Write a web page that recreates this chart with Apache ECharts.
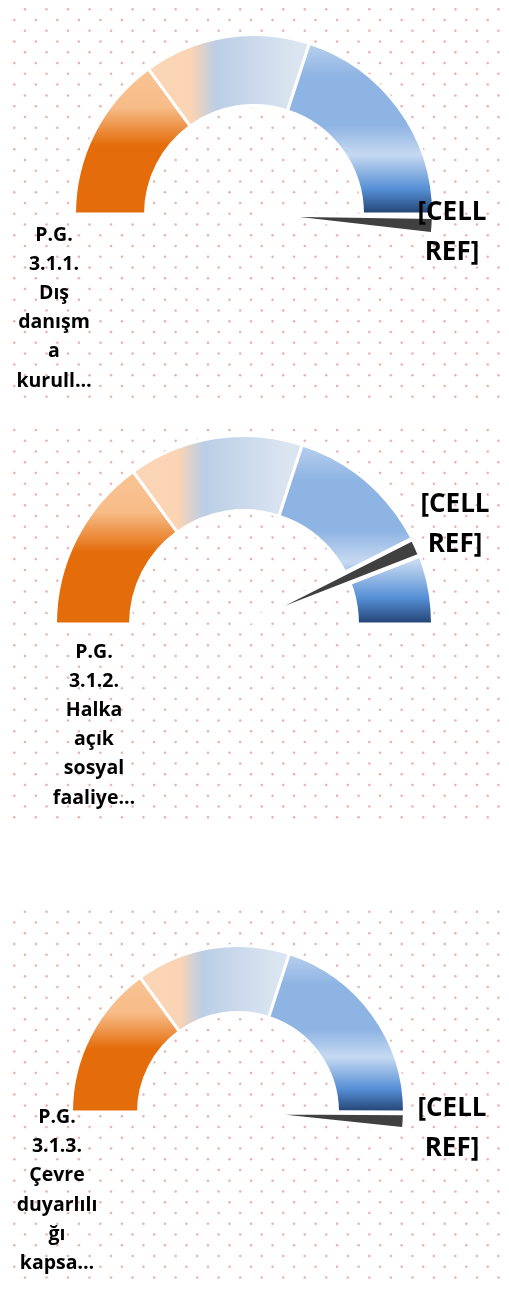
<!DOCTYPE html>
<html>
<head>
<meta charset="utf-8">
<script src="https://cdn.jsdelivr.net/npm/echarts@6/dist/echarts.min.js"></script>
<style>
  html, body { margin: 0; padding: 0; background: #ffffff; }
  #chart { width: 509px; height: 1289px; }
</style>
</head>
<body>
<div id="chart"></div>
<script>
// ---- data ----
const gaugeNames = [
  'P.G. 3.1.1. Dış danışma kurulları',
  'P.G. 3.1.2. Halka açık sosyal faaliyetler',
  'P.G. 3.1.3. Çevre duyarlılığı kapsamı'
];
const gaugeLabelLines = [
  ['P.G.', '3.1.1.', 'Dış', 'danışm', 'a', 'kurull…'],
  ['P.G.', '3.1.2.', 'Halka', 'açık', 'sosyal', 'faaliye…'],
  ['P.G.', '3.1.3.', 'Çevre', 'duyarlılı', 'ğı', 'kapsa…']
];
const bandValues = [30, 30, 40];          // three bands of the 0–100 scale
const gaugeMax = 100;                      // half circle
const needleValues = [100.5, 85.1, 100.2]; // where the pointer slice starts
const needleWidth = 3.1;                   // pointer slice width
const valueLabel = '[CELL\nREF]';

// ---- layout ----
const layout = [
  { cx: 254, cy: 214, R: 178, r: 110, area: [8, 3, 496, 399], lab: [54, 235], val: [452, 211] },
  { cx: 244, cy: 624, R: 187, r: 115, area: [8, 423, 496, 397], lab: [94, 652], val: [455, 503] },
  { cx: 238, cy: 1112, R: 165, r: 101, area: [8, 905, 496, 377], lab: [57, 1117.5], val: [452, 1107] }
];
const dotFirst = [ {y: 9.3, phaseA: true}, {y: 430.0, phaseA: false}, {y: 911.7, phaseA: true} ];

function lin(stops, horizontal) {
  return {
    type: 'linear', x: 0, y: 0, x2: horizontal ? 1 : 0, y2: horizontal ? 0 : 1,
    colorStops: stops.map(s => ({ offset: s[0], color: s[1] }))
  };
}
const bandColors = [
  lin([[0, '#F9C494'], [0.27, '#F7BC88'], [0.53, '#E46C0A'], [1, '#E46C0A']]),
  lin([[0, '#FBD6B6'], [0.27, '#FAD4B3'], [0.42, '#BBCEE6'], [0.9, '#DBE5F1'], [1, '#DBE5F1']], true),
  lin([[0, '#BBD1EE'], [0.2, '#8EB4E3'], [0.48, '#8EB4E3'], [0.65, '#C6D9F1'], [0.85, '#558ED5'], [1, '#1F3D6B']])
];

function dotCanvas(w, h, ox, oy, firstY, phaseA) {
  const c = document.createElement('canvas');
  c.width = w; c.height = h;
  const g = c.getContext('2d');
  const p = 21.52, half = p / 2;
  g.fillStyle = 'rgba(228,150,150,0.75)';
  for (let row = 0; ; row++) {
    const y = firstY + row * half - oy;
    if (y > h) break;
    const a = (row % 2 === 0) === phaseA;
    const x0 = (a ? 25 : 14.3) - ox;
    for (let x = x0; x < w; x += p) {
      g.beginPath(); g.arc(x, y, 1.25, 0, Math.PI * 2); g.fill();
    }
  }
  return c;
}

const series = [];
const graphic = [];
layout.forEach((L, i) => {
  const [ax, ay, aw, ah] = L.area;
  graphic.push({
    type: 'image', z: -10, silent: true,
    style: { image: dotCanvas(aw, ah, ax, ay, dotFirst[i].y, dotFirst[i].phaseA), x: ax, y: ay, width: aw, height: ah }
  });
  const bandData = bandValues.map((v, k) => ({
    value: v, name: 'band' + k,
    itemStyle: { color: bandColors[k], borderColor: '#ffffff', borderWidth: 3 }
  }));
  bandData.push({ value: gaugeMax, name: 'hidden', itemStyle: { color: 'transparent', borderWidth: 0 } });
  series.push({
    type: 'pie', name: gaugeNames[i], center: [L.cx, L.cy], radius: [L.r - 1.5, L.R + 1.5],
    startAngle: 180, clockwise: true, avoidLabelOverlap: false, silent: true, animation: false,
    label: { show: false }, labelLine: { show: false }, emphasis: { disabled: true },
    data: bandData, z: 2
  });
  const nv = needleValues[i];
  series.push({
    type: 'pie', name: gaugeNames[i] + ' pointer', center: [L.cx, L.cy], radius: [0, L.R + 2],
    startAngle: 180, clockwise: true, avoidLabelOverlap: false, silent: true, animation: false,
    label: { show: false }, labelLine: { show: false }, emphasis: { disabled: true },
    data: [
      { value: nv, itemStyle: { color: 'transparent', borderWidth: 0 } },
      { value: needleWidth, itemStyle: { color: '#404040', borderColor: '#ffffff', borderWidth: 4.3 } },
      { value: 2 * gaugeMax - nv - needleWidth, itemStyle: { color: 'transparent', borderWidth: 0 } }
    ],
    z: 3
  });
  const lh = 29.2;
  graphic.push({
    type: 'text', z: 10, silent: true,
    style: {
      text: gaugeLabelLines[i].join('\n'), x: L.lab[0], y: L.lab[1] - lh / 2,
      textAlign: 'center', textVerticalAlign: 'top', lineHeight: lh,
      font: 'bold 19.5px "Open Sans"', fill: '#000000'
    }
  });
  const vlh = 39.5;
  graphic.push({
    type: 'text', z: 10, silent: true,
    style: {
      text: valueLabel, x: L.val[0], y: L.val[1] - vlh / 2 + 2,
      textAlign: 'center', textVerticalAlign: 'top', lineHeight: vlh,
      font: 'bold 26px "Open Sans"', fill: '#000000'
    }
  });
});

const chart = echarts.init(document.getElementById('chart'), null, { renderer: 'canvas' });
chart.setOption({ backgroundColor: '#ffffff', animation: false, series, graphic });
</script>
</body>
</html>
